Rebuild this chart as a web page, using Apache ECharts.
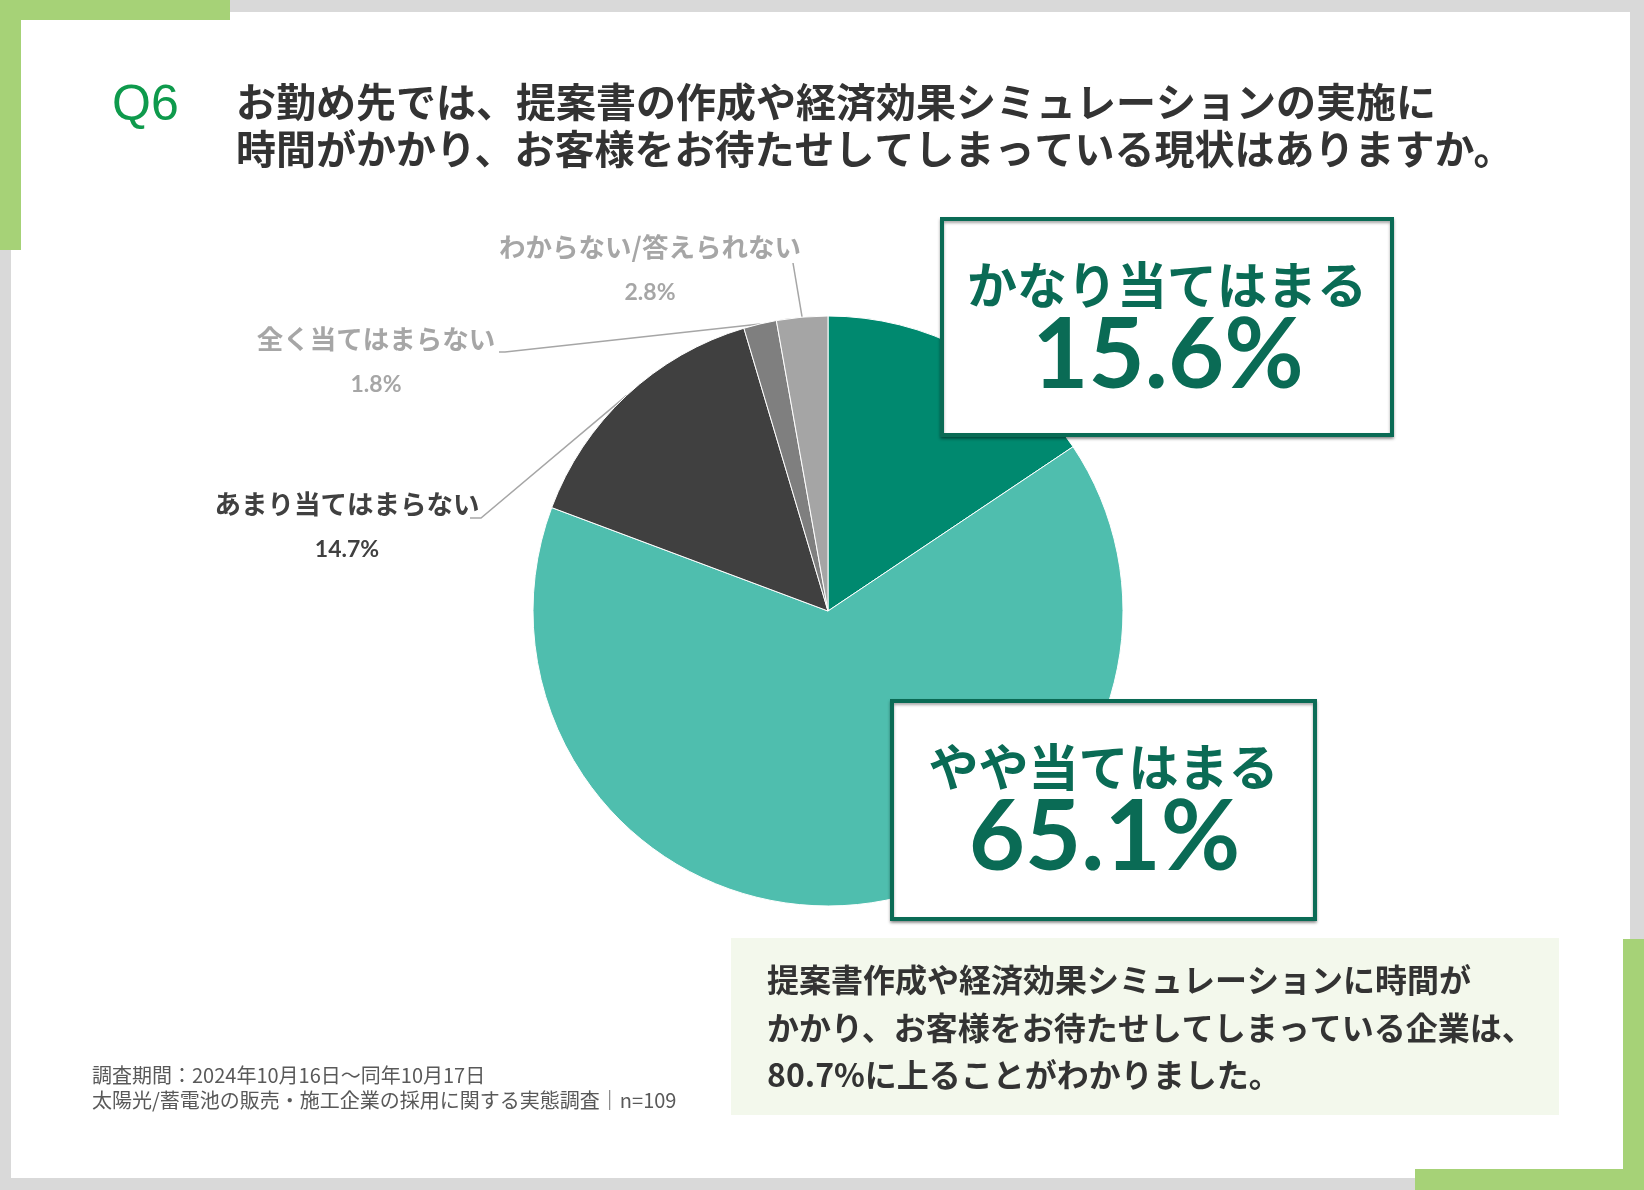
<!DOCTYPE html>
<html>
<head>
<meta charset="utf-8">
<script src="https://cdn.jsdelivr.net/npm/echarts@6/dist/echarts.min.js"></script>
<style>
  html, body { margin: 0; padding: 0; background: #d9d9d9; }
  #main { width: 1644px; height: 1190px; }
</style>
</head>
<body>
<div id="main"></div>
<script>
// データ
var categories = ['かなり当てはまる', 'やや当てはまる', 'あまり当てはまらない', '全く当てはまらない', 'わからない/答えられない'];
var shares = [15.6, 65.1, 14.7, 1.8, 2.8];
var questionNo = 'Q6';
var questionLines = [
  'お勤め先では、提案書の作成や経済効果シミュレーションの実施に',
  '時間がかかり、お客様をお待たせしてしまっている現状はありますか。'
];
var summaryLines = [
  '提案書作成や経済効果シミュレーションに時間が',
  'かかり、お客様をお待たせしてしまっている企業は、',
  '80.7%に上ることがわかりました。'
];
var footLines = [
  '調査期間：2024年10月16日〜同年10月17日',
  '太陽光/蓄電池の販売・施工企業の採用に関する実態調査｜n=109'
];

var palette = ['#00896f', '#4fbeae', '#404040', '#7f7f7f', '#a5a5a5'];
var labelColors = [null, null, '#404040', '#a6a6a6', '#a6a6a6'];
var green = '#a6d277';
var deep = '#0a6b55';

// 小さいラベルの置き場所（ラベル位置と引き出し線の折れ点）
var labelSpots = {
  2: { x: 347, y: 527, elbow: [481, 518], end: [470, 518] },
  3: { x: 376, y: 362, elbow: [505, 352], end: [499, 352] },
  4: { x: 650, y: 270, elbow: [793, 263], end: [793, 263] }
};

var chart = echarts.init(document.getElementById('main'));

var pieData = categories.map(function (name, i) {
  var item = { name: name, value: shares[i], itemStyle: { color: palette[i] } };
  if (labelColors[i]) {
    item.label = { show: true, color: labelColors[i] };
    item.labelLine = { show: true };
  } else {
    item.label = { show: false };
    item.labelLine = { show: false };
  }
  return item;
});

function pct(v) { return v.toFixed(1) + '%'; }

function bigBox(i, rect) {
  var cx = rect.x + rect.width / 2;
  return [
    {
      type: 'rect', z: 100,
      shape: rect,
      style: { fill: '#fff', stroke: deep, lineWidth: 4, shadowBlur: 3, shadowOffsetY: 2, shadowColor: 'rgba(0,0,0,0.35)' }
    },
    {
      type: 'text', z: 101, x: cx, y: rect.y + 66,
      style: { text: categories[i], fill: deep, font: 'bold 50px "Noto Sans CJK JP"', align: 'center', verticalAlign: 'middle' }
    },
    {
      type: 'text', z: 101, x: cx + 1, y: rect.y + 138,
      style: { text: pct(shares[i]), fill: deep, font: 'bold 97px Lato', align: 'center', verticalAlign: 'middle' }
    }
  ];
}

var graphics = [
  { type: 'rect', z: -10, shape: { x: 11, y: 12, width: 1619, height: 1166 }, style: { fill: '#fff' } },
  { type: 'rect', z: -9, shape: { x: 0, y: 0, width: 230, height: 20 }, style: { fill: green } },
  { type: 'rect', z: -9, shape: { x: 0, y: 0, width: 21, height: 250 }, style: { fill: green } },
  { type: 'rect', z: -9, shape: { x: 1623, y: 939, width: 21, height: 251 }, style: { fill: green } },
  { type: 'rect', z: -9, shape: { x: 1415, y: 1169, width: 229, height: 21 }, style: { fill: green } },
  {
    type: 'text', z: 10, x: 112, y: 106,
    style: { text: questionNo, fill: '#0e9a4c', font: '50px "Liberation Sans"', verticalAlign: 'middle' }
  },
  {
    type: 'rect', z: 10, shape: { x: 731, y: 938, width: 828, height: 177 }, style: { fill: '#f3f8ec' }
  }
];

questionLines.forEach(function (t, i) {
  graphics.push({
    type: 'text', z: 10, x: 236, y: 102 + i * 47,
    style: { text: t, fill: '#333', font: 'bold 40px "Noto Sans CJK JP"', verticalAlign: 'middle' }
  });
});
summaryLines.forEach(function (t, i) {
  graphics.push({
    type: 'text', z: 11, x: 767, y: 980 + i * 47.5,
    style: { text: t, fill: '#333', font: 'bold 32px "Noto Sans CJK JP"', verticalAlign: 'middle' }
  });
});
footLines.forEach(function (t, i) {
  graphics.push({
    type: 'text', z: 10, x: 92, y: 1075 + i * 25,
    style: { text: t, fill: '#595959', font: '20px "Noto Sans CJK JP"', verticalAlign: 'middle' }
  });
});
graphics = graphics.concat(bigBox(0, { x: 942, y: 219, width: 450, height: 216 }));
graphics = graphics.concat(bigBox(1, { x: 892, y: 701, width: 423, height: 218 }));

var option = {
  animation: false,
  graphic: graphics,
  series: [
    {
      type: 'pie',
      center: [828, 611],
      radius: 295,
      startAngle: 90,
      clockwise: true,
      avoidLabelOverlap: false,
      silent: true,
      itemStyle: { borderColor: '#fff', borderWidth: 1 },
      label: {
        position: 'outside',
        formatter: function (p) { return '{n|' + p.name + '}\n{v|' + pct(p.value) + '}'; },
        rich: {
          n: { fontSize: 26.5, fontWeight: 'bold', fontFamily: 'Noto Sans CJK JP', lineHeight: 46, align: 'center' },
          v: { fontSize: 23, fontWeight: 'bold', fontFamily: 'Lato', lineHeight: 46, align: 'center' }
        }
      },
      labelLine: { lineStyle: { color: '#a6a6a6', width: 1.5 } },
      labelLayout: function (p) {
        var spot = labelSpots[p.dataIndex];
        if (!spot) return;
        var start = p.labelLinePoints ? p.labelLinePoints[0] : spot.elbow;
        return {
          x: spot.x, y: spot.y, align: 'center', verticalAlign: 'middle',
          labelLinePoints: [start, spot.elbow, spot.end]
        };
      },
      emphasis: { disabled: true },
      data: pieData
    }
  ]
};

chart.setOption(option);
window.onresize = function () { chart.resize(); };
</script>
</body>
</html>
